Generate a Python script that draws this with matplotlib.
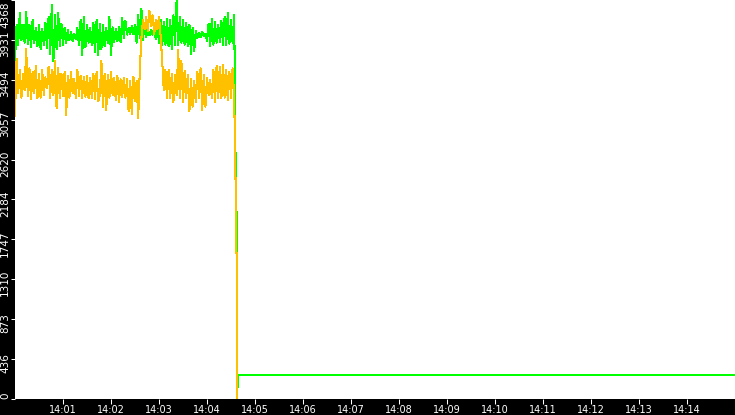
import numpy as np
import matplotlib
matplotlib.use("Agg")
import matplotlib.pyplot as plt
import matplotlib.transforms as mtransforms

# ---- data (seconds after 14:00:00, values) ----
sample_step_s = 2
green_vals = [
    3700, 4100, 3880, 4230, 3930, 4090, 3900, 4240, 3890, 4100,
    3850, 4150, 3900, 4060, 3860, 4100, 3830, 4050, 3880, 4120,
    3840, 4180, 3780, 4310, 3700, 4200, 3830, 4230, 3860, 4110,
    3880, 4060, 3900, 4040, 3930, 4020, 3920, 4000, 3940, 4060,
    3870, 4150, 3760, 4180, 3850, 4100, 3900, 4060, 3870, 4120,
    3800, 4150, 3760, 4110, 3830, 4090, 3860, 4060, 3900, 4180,
    3760, 4070, 3910, 4050, 3920, 4070, 3910, 4170, 3950, 4140,
    3990, 4060, 4000, 4080, 3990, 4100, 3900, 4200, 3950, 4270,
    3930, 4120, 3960, 4060, 3980, 4040, 3990, 4070, 3940, 4100,
    3900, 4150, 3870, 4130, 3880, 4160, 3860, 4150, 3830, 4200,
    3880, 4368, 3870, 4180, 3900, 4150, 3880, 4120, 3860, 4100,
    3780, 4060, 3810, 4030, 3950, 4010, 3960, 4020, 3970, 4000,
    3920, 4110, 3860, 4160, 3880, 4130, 3900, 4100, 3910, 4140,
    3880, 4180, 3870, 4230, 3890, 4150, 3900, 4200,
]
orange_vals = [
    3100, 3720, 3350, 3600, 3300, 3560, 3380, 3830, 3320, 3620,
    3280, 3580, 3350, 3650, 3290, 3560, 3300, 3600, 3330, 3520,
    3400, 3640, 3300, 3600, 3330, 3700, 3180, 3620, 3290, 3560,
    3320, 3580, 3110, 3540, 3300, 3580, 3350, 3500, 3300, 3600,
    3320, 3540, 3300, 3530, 3310, 3540, 3290, 3520, 3300, 3560,
    3280, 3580, 3260, 3330, 3700, 3200, 3560, 3160, 3550, 3300,
    3580, 3330, 3520, 3270, 3540, 3250, 3500, 3310, 3520, 3300,
    3500, 3150, 3480, 3120, 3530, 3260, 3480, 3080, 3600, 3950,
    4150, 4050, 4180, 4030, 4250, 4080, 4200, 4000, 4150, 4050,
    4180, 3980, 3700, 3380, 3600, 3300, 3600, 3300, 3560, 3250,
    3550, 3330, 3820, 3290, 3700, 3250, 3590, 3300, 3550, 3150,
    3500, 3200, 3480, 3250, 3580, 3300, 3620, 3160, 3550, 3200,
    3520, 3330, 3490, 3300, 3600, 3250, 3650, 3300, 3640, 3290,
    3660, 3300, 3600, 3270, 3580, 3300, 3620, 3300,
]
# sharp drop at ~14:04:36
green_tail_t = [276.3, 277.4, 277.4, 277.4, 278.6, 278.6, 900.0]
green_tail_v = [2042, 2042, 1594, 131, 131, 259, 259]
orange_tail_t = [276.3, 276.3, 277.4, 277.4]
orange_tail_v = [2050, 1594, 1594, 0]

y_max = 4368
n_yticks = 10
x_max_s = 900
xtick_minutes = list(range(1, 15))
xtick_labels = ["14:%02d" % m for m in xtick_minutes]

# ---- build series ----
t_main = np.arange(len(green_vals)) * sample_step_s
g_t = np.concatenate([t_main, green_tail_t])
g_v = np.concatenate([green_vals, green_tail_v])
o_t = np.concatenate([t_main, orange_tail_t])
o_v = np.concatenate([orange_vals, orange_tail_v])

W, H = 735, 415
fig = plt.figure(figsize=(W / 100, H / 100), dpi=100, facecolor="black")
ax = fig.add_axes([15 / W, 16 / H, 720 / W, 399 / H])
ax.set_facecolor("white")
for s in ax.spines.values():
    s.set_visible(False)

LW = 0.75  # ~1 px
ax.plot(g_t, g_v, color="#00FF00", lw=LW, antialiased=False, zorder=2)
ax.plot(o_t, o_v, color="#FFC000", lw=LW, antialiased=False, zorder=3)

ax.set_xlim(0, x_max_s)
ax.set_ylim(0, y_max)

ax.set_xticks([m * 60 for m in xtick_minutes])
ax.set_xticklabels(xtick_labels)
ax.tick_params(axis="x", colors="white", length=3.6, width=0.75, pad=0.6,
               labelsize=7, direction="out")

ytick_vals = [y_max * k / n_yticks for k in range(n_yticks + 1)]
ax.set_yticks(ytick_vals)
ax.tick_params(axis="y", colors="white", length=3.2, width=0.75,
               labelleft=False, direction="out")

# rotated y labels drawn manually
ytr = ax.get_yaxis_transform()
for k, v in enumerate(ytick_vals):
    lab = str(int(v))
    if k == 0:
        va, dy = "bottom", 0.0
    elif k == n_yticks:
        va, dy = "top", -2.0
    else:
        va, dy = "center", -4.0
    off = mtransforms.ScaledTranslation(-5.0 / 100, dy / 100, fig.dpi_scale_trans)
    ax.text(0, v, lab, transform=ytr + off, rotation=90, ha="right", va=va,
            color="white", fontsize=7.5, clip_on=False)

fig.savefig("out.png", dpi=100, facecolor="black")
